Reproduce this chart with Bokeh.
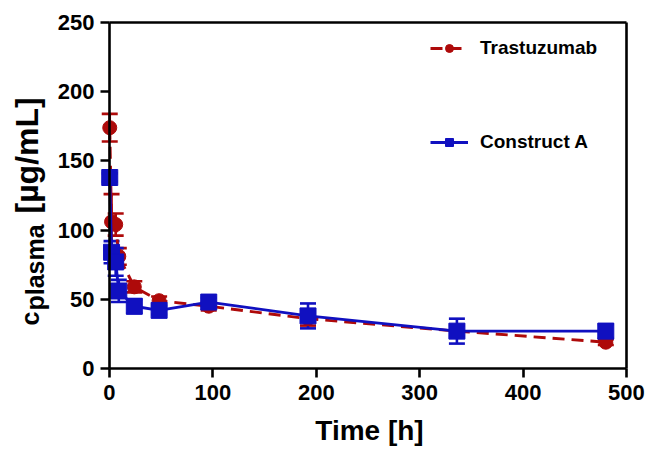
import math
from bokeh.plotting import figure
from bokeh.models import (ColumnDataSource, Whisker, TeeHead, FixedTicker, Legend,
                          LegendItem, Label, LinearAxis)
from bokeh.embed import file_html
from bokeh.resources import INLINE

time_h = [0.25, 2, 6, 9, 24, 48, 96, 192, 336, 480]
trastuzumab = [174, 106, 104, 81, 59, 49, 45, 36, 27, 19]
trastuzumab_err = [10, 20, 8, 6, 4, 3, 3, 5, 4, 2]
construct_a = [138, 84, 77, 56, 45, 42, 48, 38, 27, 27]
construct_a_err = [3, 8, 10, 8, 5, 3, 3, 9, 9, 5]
x_ticks = [0, 100, 200, 300, 400, 500]
y_ticks = [0, 50, 100, 150, 200, 250]
X_MIN, X_MAX = 0, 500
Y_MIN, Y_MAX = 0, 250

RED = "#AE0A0A"
BLUE = "#1010C0"
FONT = "Liberation Sans"
LW = 2.6

red_src = ColumnDataSource(dict(
    t=time_h, y=trastuzumab,
    lo=[v - e for v, e in zip(trastuzumab, trastuzumab_err)],
    hi=[v + e for v, e in zip(trastuzumab, trastuzumab_err)]))
blue_src = ColumnDataSource(dict(
    t=time_h, y=construct_a,
    lo=[v - e for v, e in zip(construct_a, construct_a_err)],
    hi=[v + e for v, e in zip(construct_a, construct_a_err)]))

# the frame covers the whole canvas; all axes are placed at fixed data locations
p = figure(width=648, height=446, x_range=(-105.4, 521.3), y_range=(-56.36, 265.9),
           output_backend="svg", toolbar_location=None,
           min_border_left=0, min_border_right=0, min_border_top=0, min_border_bottom=0)
p.grid.visible = False
p.outline_line_color = None
p.background_fill_color = "white"

for ax, ticks in ((p.xaxis, x_ticks), (p.yaxis, y_ticks)):
    ax.ticker = FixedTicker(ticks=ticks)
    ax.minor_tick_line_color = None
    ax.major_tick_in = 0
    ax.major_tick_out = 9
    ax.major_tick_line_width = LW
    ax.axis_line_width = LW
    ax.axis_line_color = "black"
    ax.major_tick_line_color = "black"
    ax.major_label_text_font = FONT
    ax.major_label_text_font_style = "bold"
    ax.major_label_text_font_size = "22px"
    ax.major_label_text_color = "black"

p.xaxis.major_label_standoff = 8
p.yaxis.major_label_standoff = 6
p.yaxis.fixed_location = X_MIN
p.yaxis.bounds = (Y_MIN, Y_MAX)
p.xaxis.fixed_location = Y_MIN
p.xaxis.bounds = (X_MIN, X_MAX)

# box lines (top and right) as tick-less axes
top_ax = LinearAxis(ticker=FixedTicker(ticks=[]), bounds=(X_MIN, X_MAX), fixed_location=Y_MAX,
                    axis_line_width=LW, major_tick_line_color=None, minor_tick_line_color=None)
right_ax = LinearAxis(ticker=FixedTicker(ticks=[]), bounds=(Y_MIN, Y_MAX), fixed_location=X_MAX,
                      axis_line_width=LW, major_tick_line_color=None, minor_tick_line_color=None)
p.add_layout(top_ax, "above")
p.add_layout(right_ax, "right")

# error bars
for src, col in ((red_src, RED), (blue_src, BLUE)):
    w = Whisker(source=src, base="t", upper="hi", lower="lo",
                line_color=col, line_width=LW, level="underlay",
                upper_head=TeeHead(size=16, line_color=col, line_width=LW),
                lower_head=TeeHead(size=16, line_color=col, line_width=LW))
    p.add_layout(w)

rl = p.line("t", "y", source=red_src, line_color=RED, line_width=2.9, line_dash="12 7")
rm = p.scatter("t", "y", source=red_src, marker="circle", size=14, fill_color=RED, line_color=RED)
bl = p.line("t", "y", source=blue_src, line_color=BLUE, line_width=2.9)
bm = p.scatter("t", "y", source=blue_src, marker="square", size=16, fill_color=BLUE, line_color=BLUE)

legend = Legend(items=[LegendItem(label="Trastuzumab", renderers=[rl, rm]),
                       LegendItem(label="Construct A", renderers=[bl, bm])],
                location=(430, 293), padding=0, margin=0, spacing=72,
                glyph_width=38, glyph_height=20, label_height=20, label_standoff=12,
                label_text_font=FONT, label_text_font_style="bold",
                label_text_font_size="19px", label_text_color="black",
                border_line_color=None, background_fill_alpha=0)
p.add_layout(legend)

def add_text(txt, x, y, size, angle=0.0, align="left"):
    p.add_layout(Label(x=x, y=y, x_units="screen", y_units="screen", text=txt,
                       angle=angle, text_font=FONT, text_font_style="bold",
                       text_font_size=size, text_color="black",
                       text_align=align, text_baseline="alphabetic"))

# y-axis title with subscript
add_text("c", 29, 121, "25px", math.pi / 2)
add_text("plasma", 34, 136, "25px", math.pi / 2)
add_text("[µg/mL]", 26, 233, "32px", math.pi / 2)
# x-axis title
add_text("Time [h]", 369, 16, "28px", 0.0, "center")

open("out.html", "w").write(file_html(p, INLINE))
